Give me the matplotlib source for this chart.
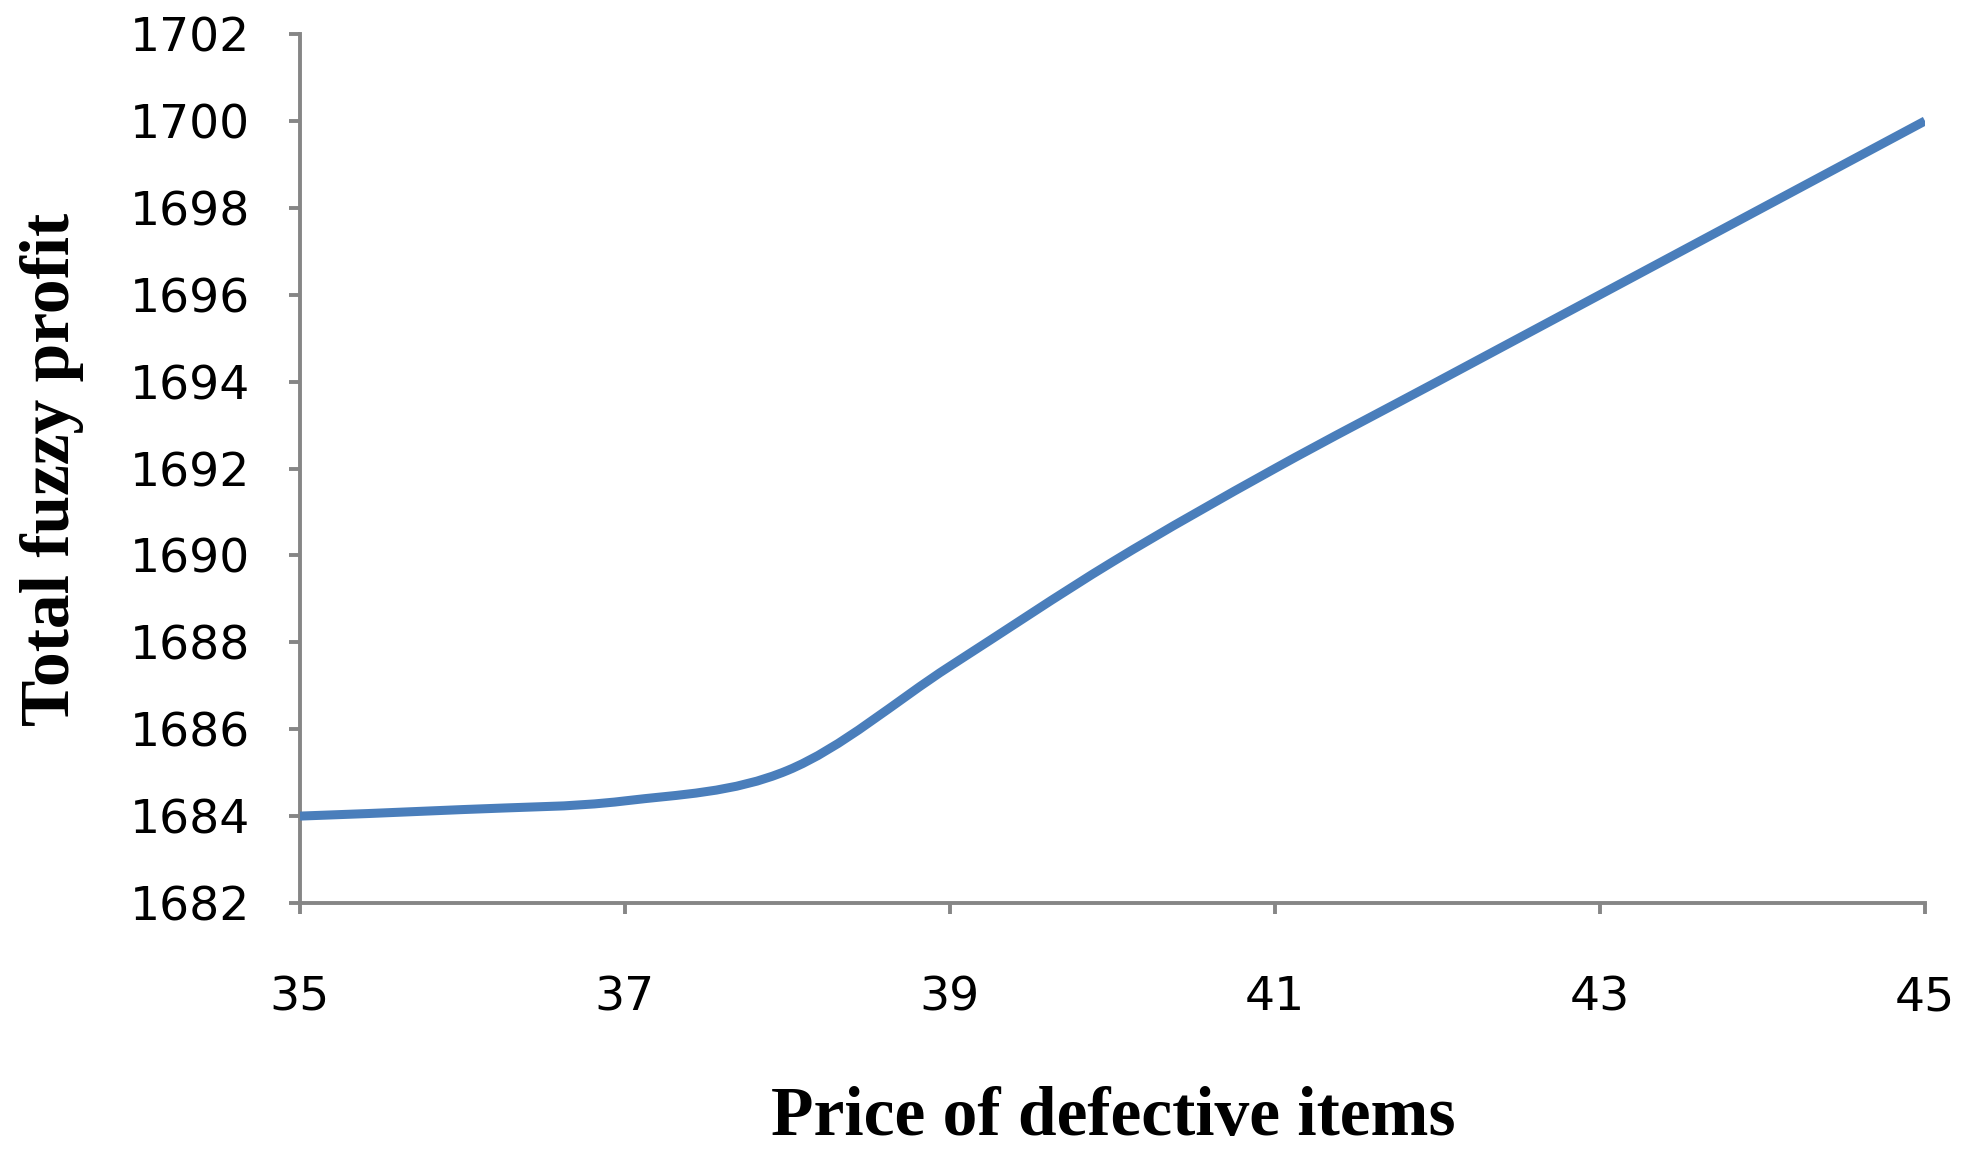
import matplotlib

matplotlib.use("Agg")
import matplotlib.pyplot as plt
from matplotlib.path import Path
from matplotlib.patches import PathPatch

# values
price = [35, 36, 37, 38, 39, 40, 41, 42, 43, 44, 45]
profit = [1684.0, 1684.15, 1684.35, 1685.05, 1687.45, 1689.85,
          1692.0, 1694.0, 1696.0, 1698.0, 1700.0]
x_ticks = [35, 37, 39, 41, 43, 45]
y_ticks = list(range(1682, 1703, 2))

LINE = "#4a7ebb"
AXIS = "#868686"


def smooth_path(xs, ys, k=1 / 6):
    # Excel-like smoothing: cubic bezier through every point
    n = len(xs)
    verts = [(xs[0], ys[0])]
    codes = [Path.MOVETO]
    for i in range(n - 1):
        x0, y0 = xs[max(i - 1, 0)], ys[max(i - 1, 0)]
        x1, y1 = xs[i], ys[i]
        x2, y2 = xs[i + 1], ys[i + 1]
        x3, y3 = xs[min(i + 2, n - 1)], ys[min(i + 2, n - 1)]
        c1 = (x1 + (x2 - x0) * k, y1 + (y2 - y0) * k)
        c2 = (x2 - (x3 - x1) * k, y2 - (y3 - y1) * k)
        verts += [c1, c2, (x2, y2)]
        codes += [Path.CURVE4] * 3
    return Path(verts, codes)


fig = plt.figure(figsize=(19.77, 11.62), dpi=100)
ax = fig.add_axes([0.1517, 0.2229, 0.8220, 0.7478])

ax.add_patch(PathPatch(smooth_path(price, profit), facecolor="none",
                       edgecolor=LINE, lw=6.5, capstyle="butt", zorder=3))

ax.set_xlim(35, 45)
ax.set_ylim(1682, 1702)
ax.set_xticks(x_ticks)
ax.set_yticks(y_ticks)

for side in ("top", "right"):
    ax.spines[side].set_visible(False)
for side in ("left", "bottom"):
    ax.spines[side].set_color(AXIS)
    ax.spines[side].set_linewidth(2.8)

ax.tick_params(axis="y", direction="out", length=8, width=2.8, color=AXIS,
               pad=28, labelsize=34, labelcolor="black")
ax.tick_params(axis="x", direction="out", length=8, width=2.8, color=AXIS,
               pad=44, labelsize=34, labelcolor="black")

fig.text(0.563, 0.038, "Price of defective items", ha="center", va="center",
         fontsize=50, fontweight="bold", family="Liberation Serif")
fig.text(0.0265, 0.5964, "Total fuzzy profit", ha="center", va="center",
         rotation=90, fontsize=50, fontweight="bold", family="Liberation Serif")

fig.savefig("out.png", dpi=100, facecolor="white")
plt.close(fig)
